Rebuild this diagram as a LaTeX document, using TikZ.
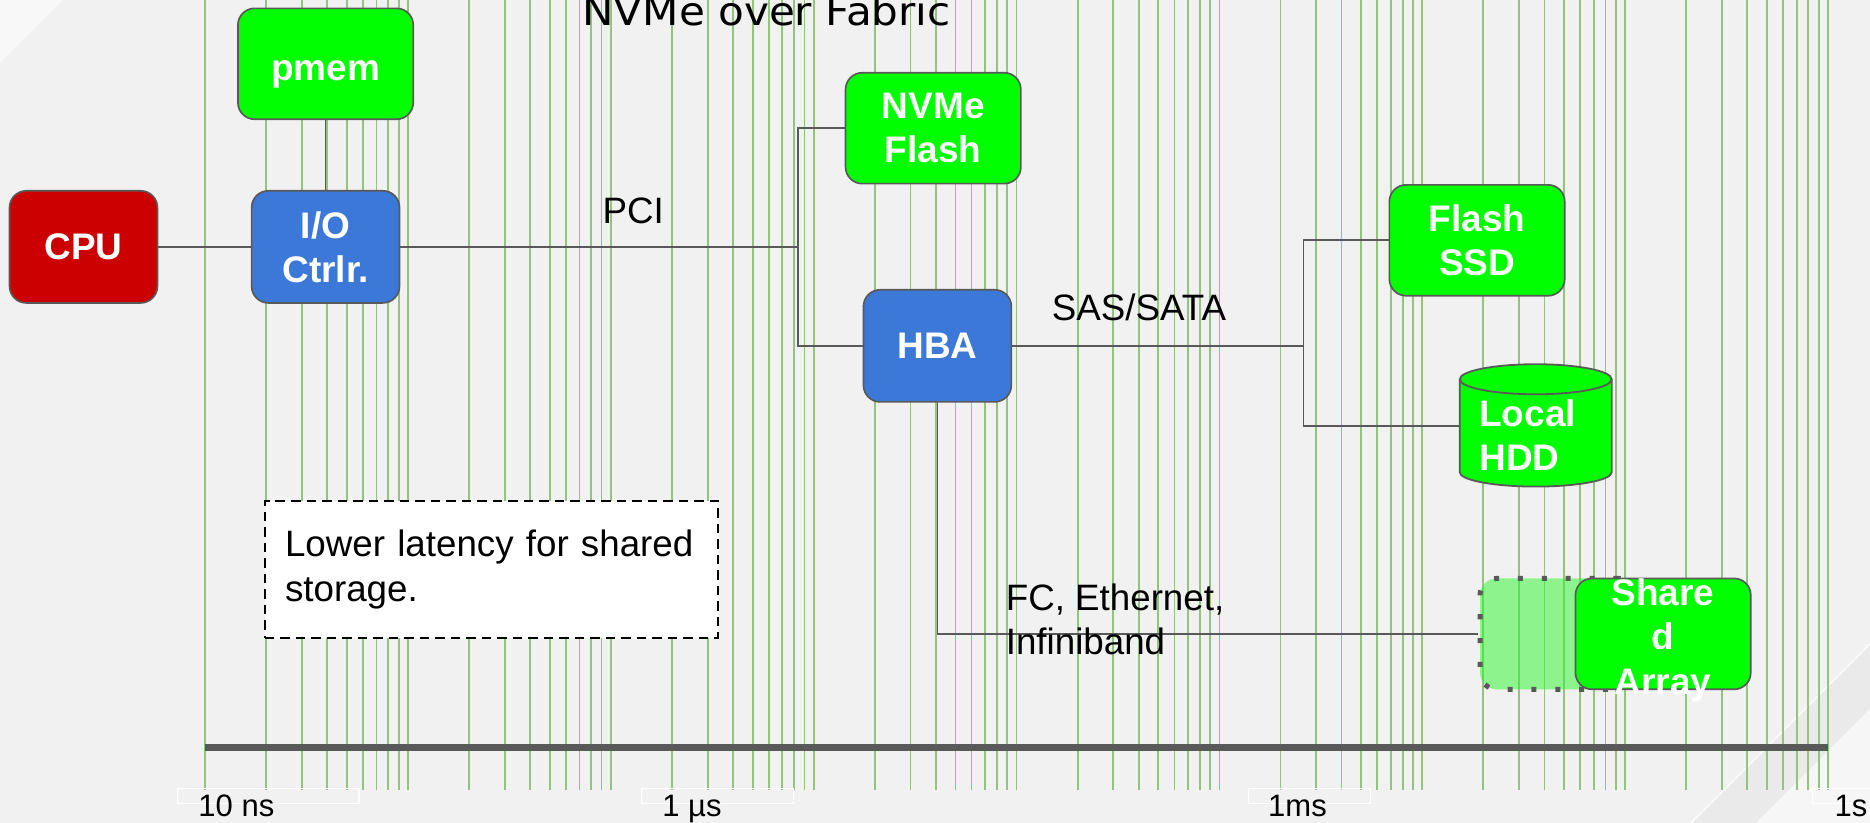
\documentclass[tikz,border=0pt]{standalone}
\usepackage{fontspec}
\setmainfont{Liberation Sans}
\newfontfamily\titlefamily{DejaVu Sans}
\newcommand\devfont{\fontsize{15.5pt}{18.5pt}\selectfont\bfseries}
\newcommand\wirefont{\fontsize{15.4pt}{18.5pt}\selectfont}
\newcommand\axisfont{\fontsize{13pt}{15.6pt}\selectfont}

\definecolor{canvas}{HTML}{F1F1F1}
\definecolor{glare}{HTML}{F8F8F8}
\definecolor{band}{HTML}{EAEAEA}
\definecolor{bandlight}{HTML}{F6F6F6}
\definecolor{edgegray}{HTML}{595959}
\definecolor{cpured}{HTML}{CC0000}
\definecolor{ioblue}{HTML}{3C78D8}
\definecolor{devgreen}{HTML}{00FF00}
\definecolor{gridgreen}{HTML}{93C47D}
\definecolor{ghostgreen}{HTML}{2BF52B}

\begin{document}
\begin{tikzpicture}[x=0.5pt,y=-0.5pt,
  wire/.style={draw=edgegray,line width=0.75pt},
  gridline/.style={draw=gridgreen,line width=0.75pt},
  device/.style={draw=edgegray,line width=0.7pt,rounded corners=7pt,
    text=white,font=\devfont,align=center,inner sep=0pt},
  greendev/.style={device,fill=devgreen,minimum width=73.5pt,minimum height=46.5pt},
  bluedev/.style={device,fill=ioblue,minimum width=62pt,minimum height=47pt},
  reddev/.style={device,fill=cpured,minimum width=62pt,minimum height=47pt},
  devtext/.style={text=white,font=\devfont,align=center,inner sep=0pt},
  wirelabel/.style={font=\wirefont,inner sep=0pt},
  ticklabel/.style={font=\axisfont,inner sep=0pt,anchor=base west},
  tickframe/.style={draw=white,line width=0.45pt},
  ghost/.style={fill=ghostgreen,fill opacity=0.5,draw=edgegray,line width=2.1pt,
    dash pattern=on 2.1pt off 7.9pt,rounded corners=7pt,
    minimum width=65pt,minimum height=46.5pt,inner sep=0pt},
  note/.style={draw=black,line width=0.65pt,dash pattern=on 4pt off 2.5pt,fill=white,
    font=\wirefont,align=left,text width=173pt,inner xsep=8.5pt,inner ysep=0pt,
    minimum height=57.5pt}]

% canvas and decorative corner shading
\fill[canvas] (0,0) rectangle (1568,690);
\useasboundingbox (0,0) rectangle (1568,690);
\fill[glare] (0,0) -- (53,0) -- (0,52) -- cycle;
\fill[band] (1418,690) -- (1568,540) -- (1568,594.5) -- (1472.5,690) -- cycle;
\fill[bandlight] (1472.5,690) -- (1568,594.5) -- (1568,690) -- cycle;
\draw[white,line width=0.5pt] (1418,690) -- (1568,540);

% logarithmic latency grid, 10 ns to 1 s
\foreach \d in {0,...,7}{
  \foreach \k in {1,...,9}{
    \pgfmathsetmacro{\gx}{172+170.1*(\d+log10(\k))}
    \draw[gridline] (\gx,0) -- (\gx,662);
  }
}
\draw[gridline] (1532.8,0) -- (1532.8,662);

% time axis
\draw[draw=edgegray,line width=3.1pt] (172,627) -- (1532.8,627);
\draw[tickframe] (148.5,661) rectangle (301,674);
\draw[tickframe] (538,661) rectangle (665,674);
\draw[tickframe] (1046.5,661) rectangle (1149.5,674);
\draw[tickframe] (1520,661) rectangle (1580,674);
\node[ticklabel] (t10ns) at (166,685) {10 ns};
\node[ticklabel] (t1us) at (555,685) {1 µs};
\node[ticklabel] (t1ms) at (1063,685) {1ms};
\node[ticklabel] (t1s) at (1538,685) {1s};

% title
\node[inner sep=0pt,anchor=base west,font=\titlefamily\fontsize{16.5pt}{19.8pt}\selectfont]
  (title) at (488,21) {\scalebox{1.07}[1]{NVMe over Fabric}};

% devices
\node[reddev,text depth=0pt] (cpu) at (70,207) {CPU};
\node[greendev] (pmem) at (273,53.5) {};
\node[devtext,text depth=0pt] (pmemtext) at (273,59.5) {pmem};
\node[bluedev] (io) at (273,207) {I/O\\Ctrlr.};
\node[greendev] (nvme) at (782.5,107.5) {NVMe\\Flash};
\node[bluedev,text depth=0pt] (hba) at (786,290) {HBA};
\node[greendev] (ssd) at (1238.5,201.5) {Flash\\SSD};
\node[inner sep=0pt,minimum width=63.7pt,minimum height=51pt] (hdd) at (1287.7,357) {};

% bus junctions
\coordinate (pcibus) at (669,207);
\coordinate (sasbus) at (1093,290);

% connectors
\draw[wire] (cpu.east) -- (io.west);
\draw[wire] (pmem.south) -- (io.north);
\draw[wire] (io.east) -- (pcibus);
\draw[wire] (nvme.west) -| (pcibus) |- (hba.west);
\draw[wire] (hba.east) -- (sasbus);
\draw[wire] (ssd.west) -| (sasbus) |- (hdd.west);

% network-attached array and its faded copy
\node[ghost] (ghost) at (1306,531.5) {};
\draw[wire] (hba.south) |- (ghost.west);
\node[greendev] (shared) at (1394.5,531.5) {};
\node[devtext] (sharedtext) at (1394.5,537) {Share\\d\\Array};

% local disk drawn as a cylinder
\path[fill=devgreen] (1224,318) -- (1224,396)
  arc[start angle=180,end angle=0,x radius=63.7,y radius=12] -- (1351.4,318) -- cycle;
\draw[wire] (1224,318) -- (1224,396)
  arc[start angle=180,end angle=0,x radius=63.7,y radius=12] -- (1351.4,318);
\draw[wire,fill=devgreen] (1287.7,318) ellipse[x radius=63.7,y radius=12.6];
\node[devtext,align=left,anchor=west] (hddtext) at (1240,364.5) {Local\\HDD};

% link labels
\node[wirelabel] (pci) at (531,177) {PCI};
\node[wirelabel] (sas) at (955,258) {SAS/SATA};
\node[wirelabel,align=left,anchor=north west] (fabric) at (843,489) {FC, Ethernet,\\Infiniband};

% note
\node[note] (lowlat) at (412,477.5) {Lower latency for shared\\storage.};
\end{tikzpicture}
\end{document}
